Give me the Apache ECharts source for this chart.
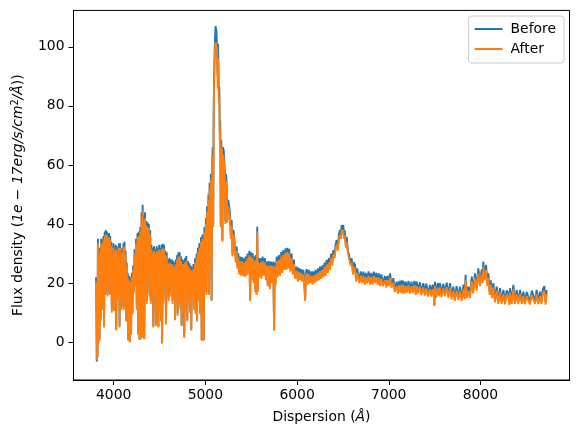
<!DOCTYPE html>
<html>
<head>
<meta charset="utf-8">
<title>Spectrum before / after</title>
<script src="https://cdn.jsdelivr.net/npm/echarts@6/dist/echarts.min.js"></script>
<style>
  html, body { margin: 0; padding: 0; background: #fff; }
  #main { width: 578px; height: 438px; }
</style>
</head>
<body>
<div id="main"></div>
<script>
// wavelength (Angstrom)
var wave = [
  3808,3812,3816,3820,3824,3828,3833,3840,3846,3852,
  3858,3864,3870,3876,3882,3888,3895,3902,3908,3914,
  3920,3926,3932,3938,3944,3950,3956,3962,3968,3974,
  3980,3986,3992,3998,4004,4010,4016,4022,4028,4034,
  4040,4046,4052,4058,4064,4070,4076,4082,4088,4094,
  4100,4106,4112,4118,4124,4130,4136,4142,4148,4154,
  4160,4168,4176,4184,4190,4198,4205,4212,4220,4228,
  4236,4244,4252,4260,4268,4276,4282,4290,4296,4304,
  4310,4316,4322,4328,4334,4342,4348,4356,4362,4370,
  4376,4384,4390,4398,4404,4412,4418,4426,4432,4440,
  4446,4454,4460,4468,4474,4482,4488,4496,4502,4510,
  4516,4522,4528,4536,4542,4550,4556,4564,4571,4578,
  4586,4594,4600,4608,4614,4622,4628,4636,4642,4650,
  4656,4664,4670,4678,4684,4692,4698,4706,4712,4720,
  4728,4736,4741,4750,4756,4764,4770,4778,4784,4792,
  4803,4810,4816,4825,4832,4840,4846,4854,4860,4870,
  4876,4887,4894,4905,4910,4918,4926,4934,4942,4952,
  4960,4968,4976,4982,4990,4998,5006,5012,5018,5026,
  5033,5040,5046,5054,5060,5068,5074,5080,5086,5090,
  5094,5100,5105,5111,5116,5122,5128,5134,5138,5141,
  5146,5152,5158,5162,5168,5174,5180,5186,5192,5200,
  5206,5212,5218,5226,5233,5240,5250,5260,5269,5278,
  5287,5296,5305,5314,5323,5332,5342,5350,5359,5368,
  5378,5388,5398,5408,5418,5428,5440,5450,5460,5470,
  5480,5488,5496,5506,5516,5526,5534,5544,5552,5558,
  5566,5572,5580,5590,5600,5612,5624,5636,5648,5660,
  5669,5680,5692,5704,5716,5728,5740,5750,5756,5764,
  5778,5790,5802,5814,5828,5840,5850,5862,5875,5885,
  5894,5905,5915,5925,5940,5952,5965,5978,5996,6008,
  6020,6032,6044,6056,6068,6080,6088,6096,6105,6116,
  6128,6141,6155,6168,6177,6190,6202,6214,6228,6240,
  6250,6262,6275,6286,6300,6312,6323,6336,6348,6359,
  6372,6384,6395,6410,6420,6432,6445,6456,6468,6478,
  6486,6496,6504,6512,6520,6532,6541,6555,6570,6584,
  6596,6610,6620,6632,6645,6655,6669,6680,6695,6710,
  6723,6738,6750,6765,6780,6796,6810,6825,6838,6850,
  6865,6880,6893,6905,6920,6935,6959,6972,6985,7000,
  7014,7030,7050,7065,7087,7100,7115,7128,7140,7150,
  7159,7172,7185,7200,7215,7232,7248,7262,7280,7295,
  7305,7320,7340,7355,7377,7392,7410,7428,7450,7465,
  7480,7492,7497,7504,7518,7535,7548,7559,7575,7595,
  7610,7632,7650,7668,7685,7704,7720,7740,7759,7777,
  7795,7815,7828,7838,7850,7868,7885,7905,7920,7941,
  7958,7977,7995,8014,8024,8031,8045,8061,8075,8086,
  8100,8112,8125,8141,8158,8177,8195,8213,8230,8250,
  8268,8285,8304,8315,8322,8340,8359,8375,8395,8412,
  8431,8450,8468,8485,8505,8522,8540,8560,8577,8595,
  8613,8630,8650,8665,8680,8697,8710,8722
];

// flux density before correction
var before = [
  22,11,-6.5,20,-5,35,-0.3,30,1,32,
  8,35,19,34.5,12,36,5.5,37.5,17,38,
  20,37.5,16.5,36.5,22,37,17,36,25,34,
  11,31,20,33.5,11.5,32,18,33,4.5,32.5,
  15.5,31,22,33.5,5.5,33.5,18,31,12,32,
  20,33.5,12,34,14,31,7.5,27,12,23.5,
  0.8,22.5,0.2,22,3,23.5,10,26,17.5,31.5,
  20,35,12,37,3,37.5,1,39,1.5,44,
  2,46.5,20,43,1.5,44,20,41,14,40.5,
  22,40,16.5,38,14,33,18,32,5.5,32.5,
  16,31.5,6,32.5,14,32,5.3,33,12,32,
  7.5,33,-0.3,33.3,14,33,21,31,6.4,30.5,
  21,28,15,28.5,21,28,16.5,28,14,27.5,
  16,27,8,28,18,29.5,9.8,30.5,14,30.5,
  12,29,5.8,28,14,27.8,1.9,28.5,15,29.2,
  7.5,27.5,16,26.7,11,26,4.2,25.4,15.4,26.5,
  12,28.4,10,30,7.5,32,15,33.5,9.9,35.5,
  0.8,36.5,12,0.8,39,18.8,42,16.6,46,25,
  50,16.6,54,30,57,14.3,60,66,40,76,
  88,97,102.5,107,107.4,105,104.6,90,101,97.8,
  85,86.5,70,75,40,68.5,68,34.5,66,65,
  62,58,41,57,52.7,41.4,48.2,46,43.7,36,
  41.4,30,38,36,35.7,28,32.4,25.6,30.1,24,
  29,23.5,28.8,23.4,28.4,23,29,23.5,30,24,
  31,14.3,30.5,22,30.1,21,29,18,29.5,16.6,
  39.1,17.7,28.4,23,28.5,22.5,29,23.5,28.5,22,
  27.3,20,27.5,18.8,27.3,21,27.3,4.2,27,20,
  29,23,29.5,23.4,30.5,24.5,31.2,25.5,31.8,25.6,
  32,26,31.6,25,30,24,28,22.5,25.6,21.5,
  25.2,22,24.8,21.5,24.5,20,14.3,23.5,24.8,20.5,
  24.5,21,24,20.5,24,21,24.5,21.5,25,22,
  25.6,22.5,26,23,27,23.5,27.9,24.5,28.5,25.5,
  30,27,31.2,29.5,33,34.6,32,36.5,38,36,
  39.7,38,39.7,36,38,33,35.7,31,31.2,27,
  28.4,24,27,26.2,21.5,25,24.5,21,24,20.8,
  23.9,20.5,23.5,21,24,20.5,23.5,20.5,23.9,21,
  23.5,20.5,23.3,20,23,20,22.4,19.5,22.5,20,
  23.3,19.5,21.7,18,20.5,17.5,20.8,17.7,21,17.5,
  20.8,17.5,20.5,17.8,20.8,17.5,20.5,17.7,20.8,17,
  20.5,17.5,20.3,17,20,16.8,19.8,16.5,19.4,16.5,
  19.5,16.6,12.6,20.5,16,20,16.6,20,16.3,19.8,
  16.6,20.2,16,20,15.5,18.8,15,19,15.2,18.8,
  15,19.5,15.5,22.8,16,18.8,16,22.2,17.5,23.3,
  18.5,25,20,24.7,21,27.3,22,26.2,20,23.3,
  17,21,16,20,14.5,18.8,14,18.3,14,17.7,
  13.7,17.5,16.6,13.5,18.3,14,19.4,14,17.7,13.8,
  17.7,14,17.1,13.8,17,16.8,13.7,17.5,17.7,14,
  17.7,13.8,17.1,14,18,19,13.5,17.7
];

// flux density after correction
var after = [
  20.5,10,-6,18.5,-4.5,33.5,-0.5,28.5,0.5,30.5,
  7,33.5,18,33,11,34.5,5,36,16,36.5,
  19,36,15.5,35,21,35.5,16,34.5,24,32.5,
  10,29.5,19,32,10.5,30.5,17,31.5,4,31,
  14.5,29.5,21,32,5,32,17,29.5,11,30.5,
  19,32,11,32.5,13,29.5,7,25.5,11,22,
  0.5,21,0,20.5,2.5,22,9.5,24.5,16.5,30,
  19,33.5,11,35.5,2.5,36,0.8,37.5,1,42,
  1.5,44.5,19,41,1,42,19,39.5,13,39,
  21,38.5,15.5,36.5,13,31.5,17,30.5,5,31,
  15,30,5.5,31,13,30.5,5,31.5,11,30.5,
  7,31.5,-0.3,31.8,13,31.5,20,29.5,6,29,
  20,26.5,14,27,20,26.5,15.5,26.5,13,26,
  15,25.5,7.5,26.5,17,28,9,29,13,29,
  11,27.5,5.5,26.5,13,26.3,1.5,27,14,27.7,
  7,26,15,25.2,10,24.5,4,24,14.5,25,
  11,27,9.5,28.5,7,30.5,14,32,9.5,34,
  0.5,35,11,0.5,37.5,18,40,16,44,24,
  48,16,52,29,55,14,57.5,63,39,73,
  84,93,98,101.5,102,100,99,86,96,94,
  81,83,67,72,39,66,65,34,63.5,62.5,
  59.5,55.5,40,54.5,50.5,40.5,46,44,42,35,
  39.5,29,36.5,34.5,34,27,31,24.8,28.8,23,
  27.5,22.5,27.4,22.5,27,22,27.5,22.5,28.5,23,
  29.5,14,29,21,28.6,20,27.5,17,28,16,
  37.5,17,27,22,27,21.5,27.5,22.5,27,21,
  26,19,26,18,26,20,26,4,25.5,19,
  27.5,22,28,22.5,29,23.5,29.7,24.5,30.3,24.6,
  30.5,25,30,24,28.5,23,26.5,21.5,24.2,20.5,
  23.8,21,23.4,20.5,23,19,14,22,23.3,19.5,
  23,20,22.5,19.5,22.5,20,23,20.5,23.5,21,
  24,21.5,24.5,22,25.5,22.5,26.4,23.5,27,24.5,
  28.5,26,29.7,28.5,31.5,33,31,35,36.3,35,
  38,36.5,38,35,36.3,32,34,30,29.7,26,
  27,23,25.5,24.8,20.5,23.5,23,20,22.5,20,
  22.5,19.5,22,20,22.5,19.5,22,19.5,22.5,20,
  22,19.5,21.8,19,21.5,19,21,18.5,21,19,
  21.8,18.5,20.2,17,19,16.5,19.3,16.8,19.5,16.5,
  19.3,16.5,19,16.8,19.3,16.5,19,16.7,19.3,16,
  19,16.5,18.8,16,18.5,15.8,18.3,15.5,18,15.5,
  18,15.6,12.3,19,15,18.5,15.6,18.5,15.3,18.3,
  15.6,18.7,15,18.5,14.5,17.4,14,17.5,14.3,17.4,
  14,18,14.5,21.2,15,17.4,15,20.6,16.5,21.8,
  17.5,23.3,19,23,20,25.5,21,24.5,19,21.8,
  16,19.5,15,18.6,13.5,17.4,13,16.9,13,16.3,
  12.8,16,15.2,12.6,16.8,13,17.9,13,16.3,12.9,
  16.3,13,15.7,12.9,15.6,15.4,12.8,16,16.3,13,
  16.3,12.9,15.7,13,16.5,17.5,12.7,16.3
];

var seriesNames = ['Before', 'After'];
var xTicks = [4000, 5000, 6000, 7000, 8000];
var yTicks = [0, 20, 40, 60, 80, 100];

var font = 'DejaVu Sans';

function pairs(vals) {
  return wave.map(function (w, i) { return [w, vals[i]]; });
}

var chart = echarts.init(document.getElementById('main'), null, { renderer: 'canvas' });

var option = {
  animation: false,
  backgroundColor: '#fff',
  grid: {
    left: 73.5, right: 8.5, top: 10.4, bottom: 58,
    show: true, borderColor: '#000', borderWidth: 1,
    containLabel: false, outerBoundsMode: 'none'
  },
  legend: {
    data: seriesNames,
    orient: 'vertical',
    right: 14, top: 16,
    icon: 'rect',
    itemWidth: 28, itemHeight: 2,
    itemGap: 4,
    padding: [5, 8, 6, 6],
    borderColor: '#cccccc', borderWidth: 1, borderRadius: 3,
    backgroundColor: 'rgba(255,255,255,0.8)',
    textStyle: { fontFamily: font, fontSize: 13.9, color: '#000', lineHeight: 16, padding: [0, 0, 0, 3] }
  },
  xAxis: {
    type: 'value',
    min: 3562, max: 8971,
    splitNumber: 5,
    name: 'Dispersion ({i|Å})',
    nameLocation: 'middle',
    nameGap: 30,
    nameTextStyle: {
      fontFamily: font, fontSize: 13.9, color: '#000',
      rich: { i: { fontFamily: font, fontSize: 13.9, fontStyle: 'italic', color: '#000' } }
    },
    axisLine: { show: true, onZero: false, lineStyle: { color: '#000', width: 1 } },
    axisTick: { show: true, inside: false, length: 5, lineStyle: { color: '#000' } },
    axisLabel: {
      showMinLabel: false, showMaxLabel: false,
      margin: 8,
      fontFamily: font, fontSize: 13.9, color: '#000',
      formatter: function (v) { return xTicks.indexOf(v) >= 0 ? String(v) : ''; }
    },
    splitLine: { show: false }
  },
  yAxis: {
    type: 'value',
    min: -12.76, max: 112.3,
    splitNumber: 6,
    name: 'Flux density ({it|1e} − {it|17erg/s/cm}{sup|2}{it|/Å}))',
    nameLocation: 'middle',
    nameGap: 47,
    nameTextStyle: {
      fontFamily: font, fontSize: 13.9, color: '#000',
      rich: {
        it: { fontFamily: font, fontSize: 13.9, fontStyle: 'italic', color: '#000' },
        sup: { fontFamily: font, fontSize: 9.7, color: '#000', verticalAlign: 'top', padding: [0, 0, 6, 0] }
      }
    },
    axisLine: { show: true, onZero: false, lineStyle: { color: '#000', width: 1 } },
    axisTick: { show: true, inside: false, length: 5, lineStyle: { color: '#000' } },
    axisLabel: {
      showMinLabel: false, showMaxLabel: false,
      margin: 9,
      fontFamily: font, fontSize: 13.9, color: '#000',
      formatter: function (v) { return yTicks.indexOf(v) >= 0 ? String(v) : ''; }
    },
    splitLine: { show: false }
  },
  series: [
    {
      name: seriesNames[0],
      type: 'line',
      data: pairs(before),
      color: '#1f77b4',
      showSymbol: false, symbol: 'none',
      lineStyle: { width: 1.9, color: '#1f77b4' },
      emphasis: { disabled: true }
    },
    {
      name: seriesNames[1],
      type: 'line',
      data: pairs(after),
      color: '#ff7f0e',
      showSymbol: false, symbol: 'none',
      lineStyle: { width: 1.9, color: '#ff7f0e' },
      emphasis: { disabled: true }
    }
  ]
};

chart.setOption(option);
</script>
</body>
</html>
